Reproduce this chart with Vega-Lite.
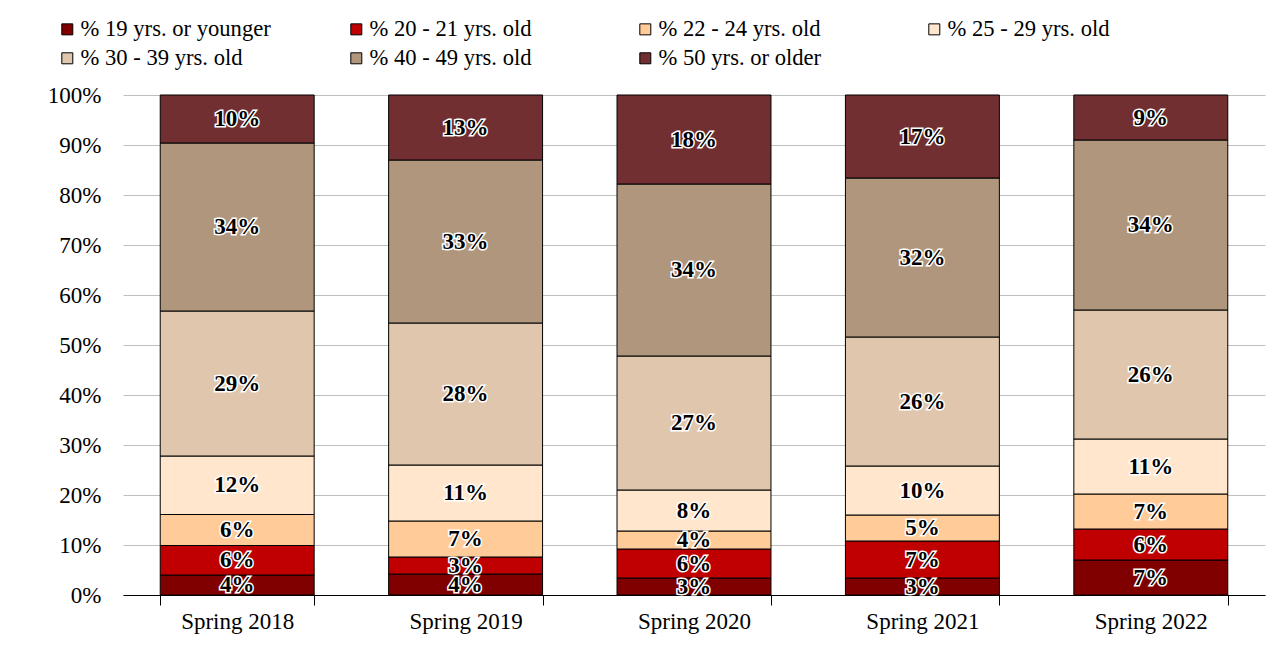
{
  "$schema": "https://vega.github.io/schema/vega-lite/v6.json",
  "autosize": {"type": "none"},
  "width": 1142,
  "height": 500,
  "padding": {"left": 123, "top": 95, "right": 19, "bottom": 56},
  "background": "white",
  "config": {
    "font": "Liberation Serif",
    "view": {"stroke": null},
    "axis": {"labelFont": "Liberation Serif"},
    "legend": {"labelFont": "Liberation Serif"},
    "style": {"guide-label": {"font": "Liberation Serif"}},
    "text": {"font": "Liberation Serif"}
  },
  "data": {
    "values": [
      {"year": "Spring 2018", "group": "% 19 yrs. or younger", "order": 1, "value": 4.0},
      {"year": "Spring 2018", "group": "% 20 - 21 yrs. old", "order": 2, "value": 5.9},
      {"year": "Spring 2018", "group": "% 22 - 24 yrs. old", "order": 3, "value": 6.2},
      {"year": "Spring 2018", "group": "% 25 - 29 yrs. old", "order": 4, "value": 11.7},
      {"year": "Spring 2018", "group": "% 30 - 39 yrs. old", "order": 5, "value": 29.0},
      {"year": "Spring 2018", "group": "% 40 - 49 yrs. old", "order": 6, "value": 33.6},
      {"year": "Spring 2018", "group": "% 50 yrs. or older", "order": 7, "value": 9.6},
      {"year": "Spring 2019", "group": "% 19 yrs. or younger", "order": 1, "value": 4.2},
      {"year": "Spring 2019", "group": "% 20 - 21 yrs. old", "order": 2, "value": 3.4},
      {"year": "Spring 2019", "group": "% 22 - 24 yrs. old", "order": 3, "value": 7.2},
      {"year": "Spring 2019", "group": "% 25 - 29 yrs. old", "order": 4, "value": 11.2},
      {"year": "Spring 2019", "group": "% 30 - 39 yrs. old", "order": 5, "value": 28.4},
      {"year": "Spring 2019", "group": "% 40 - 49 yrs. old", "order": 6, "value": 32.6},
      {"year": "Spring 2019", "group": "% 50 yrs. or older", "order": 7, "value": 13.0},
      {"year": "Spring 2020", "group": "% 19 yrs. or younger", "order": 1, "value": 3.4},
      {"year": "Spring 2020", "group": "% 20 - 21 yrs. old", "order": 2, "value": 5.8},
      {"year": "Spring 2020", "group": "% 22 - 24 yrs. old", "order": 3, "value": 3.6},
      {"year": "Spring 2020", "group": "% 25 - 29 yrs. old", "order": 4, "value": 8.2},
      {"year": "Spring 2020", "group": "% 30 - 39 yrs. old", "order": 5, "value": 26.8},
      {"year": "Spring 2020", "group": "% 40 - 49 yrs. old", "order": 6, "value": 34.4},
      {"year": "Spring 2020", "group": "% 50 yrs. or older", "order": 7, "value": 17.8},
      {"year": "Spring 2021", "group": "% 19 yrs. or younger", "order": 1, "value": 3.4},
      {"year": "Spring 2021", "group": "% 20 - 21 yrs. old", "order": 2, "value": 7.4},
      {"year": "Spring 2021", "group": "% 22 - 24 yrs. old", "order": 3, "value": 5.2},
      {"year": "Spring 2021", "group": "% 25 - 29 yrs. old", "order": 4, "value": 9.8},
      {"year": "Spring 2021", "group": "% 30 - 39 yrs. old", "order": 5, "value": 25.8},
      {"year": "Spring 2021", "group": "% 40 - 49 yrs. old", "order": 6, "value": 31.8},
      {"year": "Spring 2021", "group": "% 50 yrs. or older", "order": 7, "value": 16.6},
      {"year": "Spring 2022", "group": "% 19 yrs. or younger", "order": 1, "value": 7.0},
      {"year": "Spring 2022", "group": "% 20 - 21 yrs. old", "order": 2, "value": 6.2},
      {"year": "Spring 2022", "group": "% 22 - 24 yrs. old", "order": 3, "value": 7.0},
      {"year": "Spring 2022", "group": "% 25 - 29 yrs. old", "order": 4, "value": 11.0},
      {"year": "Spring 2022", "group": "% 30 - 39 yrs. old", "order": 5, "value": 25.8},
      {"year": "Spring 2022", "group": "% 40 - 49 yrs. old", "order": 6, "value": 34.0},
      {"year": "Spring 2022", "group": "% 50 yrs. or older", "order": 7, "value": 9.0}
    ]
  },
  "transform": [
    {"stack": "value", "groupby": ["year"], "sort": [{"field": "order", "order": "ascending"}], "as": ["v0", "v1"]},
    {"calculate": "(datum.v0 + datum.v1) / 2", "as": "mid"},
    {"calculate": "round(datum.value) + '%'", "as": "label"}
  ],
  "encoding": {
    "x": {
      "field": "year",
      "type": "nominal",
      "title": null,
      "scale": {"paddingInner": 0.326, "paddingOuter": 0.163},
      "axis": {
        "labelAngle": 0,
        "labelFont": "Liberation Serif",
        "labelFontSize": 23,
        "labelColor": "black",
        "labelPadding": 5,
        "tickBand": "extent",
        "tickSize": 10,
        "tickColor": "black",
        "domainColor": "black",
        "domainWidth": 1,
        "grid": false
      }
    }
  },
  "layer": [
    {
      "mark": {"type": "bar", "stroke": "black", "strokeWidth": 1},
      "encoding": {
        "y": {
          "field": "v0",
          "type": "quantitative",
          "scale": {"domain": [0, 100], "nice": false},
          "title": null,
          "axis": {
            "values": [0, 10, 20, 30, 40, 50, 60, 70, 80, 90, 100],
            "labelExpr": "datum.value + '%'",
            "labelFont": "Liberation Serif",
            "labelFontSize": 23,
            "labelColor": "black",
            "labelPadding": 22,
            "ticks": false,
            "domain": false,
            "grid": true,
            "gridColor": "#BFBFBF",
            "gridWidth": 1
          }
        },
        "y2": {"field": "v1"},
        "color": {
          "field": "group",
          "type": "nominal",
          "scale": {
            "domain": ["% 19 yrs. or younger", "% 20 - 21 yrs. old", "% 22 - 24 yrs. old", "% 25 - 29 yrs. old", "% 30 - 39 yrs. old", "% 40 - 49 yrs. old", "% 50 yrs. or older"],
            "range": ["#800000", "#C00000", "#FFCC99", "#FFE6CD", "#DFC6AC", "#AF967C", "#722F31"]
          },
          "legend": {
            "title": null,
            "orient": "none",
            "legendX": -67,
            "legendY": -77,
            "direction": "horizontal",
            "columns": 4,
            "gridAlign": "all",
            "columnPadding": 74,
            "rowPadding": 6,
            "symbolType": "square",
            "symbolSize": 121,
            "symbolStrokeColor": "black",
            "symbolStrokeWidth": 1,
            "symbolOpacity": 1,
            "labelFont": "Liberation Serif",
            "labelFontSize": 22.6,
            "labelColor": "black",
            "labelOffset": 2,
            "labelLimit": 400
          }
        }
      }
    },
    {
      "mark": {"type": "text", "font": "Liberation Serif", "fontWeight": "bold", "fontSize": 23, "fill": "white", "stroke": "white", "strokeWidth": 3, "baseline": "middle", "align": "center"},
      "encoding": {
        "y": {"field": "mid", "type": "quantitative"},
        "text": {"field": "label"}
      }
    },
    {
      "mark": {"type": "text", "font": "Liberation Serif", "fontWeight": "bold", "fontSize": 23, "fill": "black", "baseline": "middle", "align": "center"},
      "encoding": {
        "y": {"field": "mid", "type": "quantitative"},
        "text": {"field": "label"}
      }
    }
  ]
}
